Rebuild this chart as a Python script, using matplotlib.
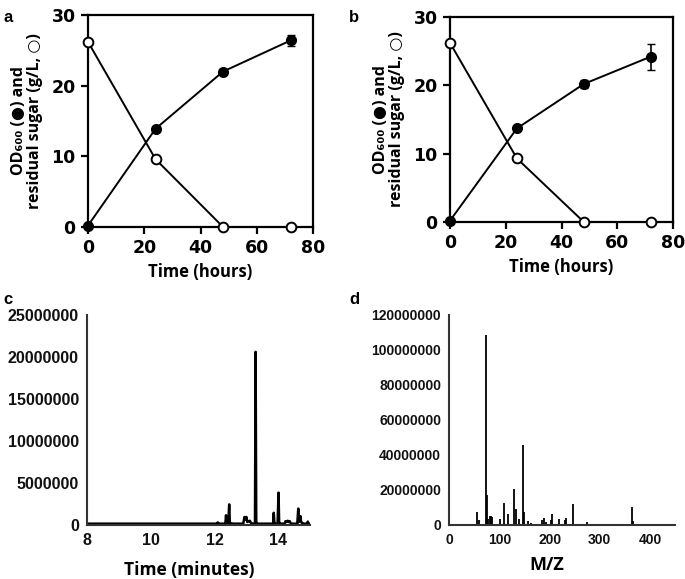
import matplotlib
matplotlib.use('Agg')
import matplotlib.pyplot as plt

# growth curves (panels a, b)
hours = [0, 24, 48, 72]
od_a = [0.2, 13.9, 22.0, 26.4]
od_a_err = [0.0, 0.3, 0.3, 0.8]
sugar_a = [26.2, 9.6, 0.0, 0.0]
od_b = [0.2, 13.7, 20.2, 24.2]
od_b_err = [0.0, 0.3, 0.6, 1.9]
sugar_b = [26.2, 9.3, 0.0, 0.0]

# GC chromatogram (panel c)
gc_time = [8.0, 9.0, 10.0, 11.0, 12.0, 12.08, 12.1, 12.12, 12.3, 12.34, 12.36, 12.38,
           12.43, 12.46, 12.48, 12.5, 12.6, 12.9, 12.94, 12.97, 13.0, 13.03, 13.06,
           13.11, 13.14, 13.2, 13.27, 13.29, 13.31, 13.33, 13.6, 13.84, 13.86, 13.88,
           13.9, 13.98, 14.01, 14.03, 14.05, 14.1, 14.2, 14.23, 14.26, 14.3, 14.33,
           14.36, 14.4, 14.6, 14.63, 14.65, 14.7, 14.72, 14.75, 14.8, 14.9, 14.93,
           14.95, 15.0]
gc_signal = [0.1, 0.1, 0.1, 0.1, 0.1, 0.1, 0.25, 0.1, 0.1, 0.15, 1.1, 0.2,
             0.2, 2.4, 0.2, 0.15, 0.1, 0.1, 0.9, 0.6, 0.9, 0.3, 0.35,
             0.45, 0.2, 0.1, 0.1, 20.6, 0.1, 0.1, 0.1, 0.1, 1.4, 0.1,
             0.1, 0.1, 3.8, 0.1, 0.1, 0.1, 0.1, 0.4, 0.3, 0.45, 0.3,
             0.4, 0.1, 0.1, 1.9, 0.3, 1.0, 0.3, 0.2, 0.1, 0.1, 0.35,
             0.1, 0.1]

# mass spectrum (panel d)
mz = [55, 59, 73, 75, 77, 81, 83, 85, 101, 109, 117, 129, 133, 139, 147, 149,
      156, 162, 185, 189, 193, 202, 204, 218, 231, 233, 247, 275, 364, 366]
abund = [7.1, 2.5, 108.3, 16.8, 3.0, 4.8, 4.8, 4.5, 2.9, 12.6, 5.9, 20.3, 9.0,
         3.4, 45.5, 7.3, 1.9, 0.6, 2.5, 4.0, 1.5, 2.5, 6.3, 2.9, 2.5, 3.6, 11.5,
         1.3, 9.8, 2.0]

lab_font = ['Open Sans', 'DejaVu Sans']
plt.rcParams['font.family'] = ['DejaVu Sans']

fig = plt.figure(figsize=(6.85, 5.79), dpi=100)

def growth(rect, od, od_err, sugar, letter, lx):
    ax = fig.add_axes(rect)
    ax.errorbar(hours, od, yerr=od_err, color='black', marker='o', markersize=7,
                mfc='black', mec='black', lw=1.4, capsize=3, elinewidth=1.2,
                clip_on=False, zorder=3)
    ax.plot(hours, sugar, color='black', marker='o', markersize=7, mfc='white',
            mec='black', mew=1.4, lw=1.4, clip_on=False, zorder=4)
    ax.set_xlim(0, 80)
    ax.set_ylim(0, 30)
    ax.set_xticks([0, 20, 40, 60, 80])
    ax.set_yticks([0, 10, 20, 30])
    ax.set_xticklabels(['0', '20', '40', '60', '80'], fontfamily='DejaVu Sans',
                       fontweight='bold', fontsize=12.5)
    ax.set_yticklabels(['0', '10', '20', '30'], fontfamily='DejaVu Sans',
                       fontweight='bold', fontsize=12.5)
    for s in ax.spines.values():
        s.set_linewidth(1.6)
    ax.tick_params(direction='out', length=5, width=1.6, pad=4)
    ax.set_xlabel('Time (hours)', family=lab_font, fontweight='bold',
                  fontsize=12, labelpad=4)
    ax.set_ylabel('OD\u2086\u2080\u2080 (\u25cf) and\nresidual sugar (g/L, \u25cb)',
                  family=lab_font, fontweight='bold', fontsize=11.5,
                  labelpad=6, linespacing=1.0)
    fig.text(lx, 0.982, letter, fontsize=12, fontweight='bold', family='Liberation Sans',
             va='top')
    return ax

growth([0.1285, 0.608, 0.3285, 0.366], od_a, od_a_err, sugar_a, 'a', 0.005)
growth([0.657, 0.6166, 0.3255, 0.354], od_b, od_b_err, sugar_b, 'b', 0.51)

def lower(rect, letter, lx):
    ax = fig.add_axes(rect)
    for k in ['top', 'right']:
        ax.spines[k].set_visible(False)
    for k in ['left', 'bottom']:
        ax.spines[k].set_linewidth(1.5)
        ax.spines[k].set_color('#333333')
    ax.tick_params(length=0, pad=6)
    fig.text(lx, 0.495, letter, fontsize=12, fontweight='bold', family='Liberation Sans',
             va='top')
    return ax

tick_c = {'fontfamily': 'Liberation Sans', 'fontweight': 'bold', 'fontsize': 11.5,
          'color': '#111111'}
tick_d = {'fontfamily': 'Liberation Sans', 'fontweight': 'bold', 'fontsize': 10,
          'color': '#111111'}

ax_c = lower([0.1274, 0.0941, 0.3252, 0.3619], 'c', 0.005)
ax_c.plot(gc_time, [v * 1e6 for v in gc_signal], color='black', lw=1.8)
ax_c.set_xlim(8, 15)
ax_c.set_ylim(0, 25000000)
ax_c.set_xticks([8, 10, 12, 14])
ax_c.set_xticklabels(['8', '10', '12', '14'], **tick_c)
ax_c.set_yticks(range(0, 25000001, 5000000))
ax_c.set_yticklabels([str(v) for v in range(0, 25000001, 5000000)], **tick_c)
ax_c.set_xlabel('Time (minutes)', family=lab_font, fontweight='bold', fontsize=12.5)
ax_c.xaxis.set_label_coords(0.46, -0.175, transform=ax_c.transAxes)
ax_c.xaxis.label.set_va('top')

ax_d = lower([0.656, 0.0941, 0.3294, 0.3619], 'd', 0.51)
ax_d.vlines(mz, 0, [v * 1e6 for v in abund], color='black', lw=1.3)
ax_d.set_xlim(0, 450)
ax_d.set_ylim(0, 120000000)
ax_d.set_xticks([0, 100, 200, 300, 400])
ax_d.set_xticklabels(['0', '100', '200', '300', '400'], **tick_d)
ax_d.set_yticks(range(0, 120000001, 20000000))
ax_d.set_yticklabels([str(v) for v in range(0, 120000001, 20000000)], **tick_d)
ax_d.set_xlabel('M/Z', family=lab_font, fontweight='bold', fontsize=13)
ax_d.xaxis.set_label_coords(0.43, -0.15, transform=ax_d.transAxes)
ax_d.xaxis.label.set_va('top')

fig.savefig('out.png', dpi=100)
